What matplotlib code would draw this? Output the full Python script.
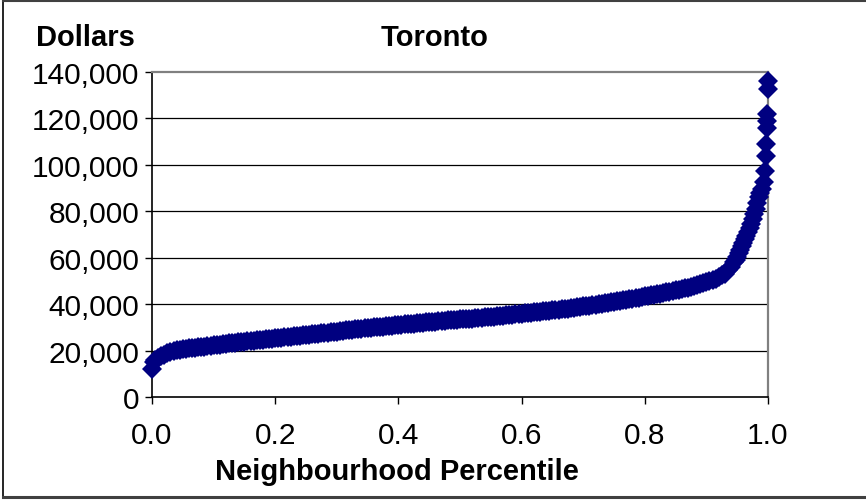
import matplotlib
matplotlib.use("Agg")
import matplotlib.pyplot as plt
from matplotlib.lines import Line2D
from matplotlib.ticker import FuncFormatter

plt.rcParams['font.family'] = ['Liberation Sans', 'DejaVu Sans']

title = "Toronto"
y_label = "Dollars"
x_label = "Neighbourhood Percentile"
x_ticks = [0.0, 0.2, 0.4, 0.6, 0.8, 1.0]
y_ticks = [0, 20000, 40000, 60000, 80000, 100000, 120000, 140000]

percentile = [
    0.000, 0.003,
    0.005, 0.010, 0.015, 0.020, 0.025, 0.030, 0.035, 0.040, 0.045, 0.050,
    0.055, 0.060, 0.065, 0.070, 0.075, 0.080, 0.085, 0.090, 0.095, 0.100,
    0.105, 0.110, 0.115, 0.120, 0.125, 0.130, 0.135, 0.140, 0.145, 0.150,
    0.155, 0.160, 0.165, 0.170, 0.175, 0.180, 0.185, 0.190, 0.195, 0.200,
    0.205, 0.210, 0.215, 0.220, 0.225, 0.230, 0.235, 0.240, 0.245, 0.250,
    0.255, 0.260, 0.265, 0.270, 0.275, 0.280, 0.285, 0.290, 0.295, 0.300,
    0.305, 0.310, 0.315, 0.320, 0.325, 0.330, 0.335, 0.340, 0.345, 0.350,
    0.355, 0.360, 0.365, 0.370, 0.375, 0.380, 0.385, 0.390, 0.395, 0.400,
    0.405, 0.410, 0.415, 0.420, 0.425, 0.430, 0.435, 0.440, 0.445, 0.450,
    0.455, 0.460, 0.465, 0.470, 0.475, 0.480, 0.485, 0.490, 0.495, 0.500,
    0.505, 0.510, 0.515, 0.520, 0.525, 0.530, 0.535, 0.540, 0.545, 0.550,
    0.555, 0.560, 0.565, 0.570, 0.575, 0.580, 0.585, 0.590, 0.595, 0.600,
    0.605, 0.610, 0.615, 0.620, 0.625, 0.630, 0.635, 0.640, 0.645, 0.650,
    0.655, 0.660, 0.665, 0.670, 0.675, 0.680, 0.685, 0.690, 0.695, 0.700,
    0.705, 0.710, 0.715, 0.720, 0.725, 0.730, 0.735, 0.740, 0.745, 0.750,
    0.755, 0.760, 0.765, 0.770, 0.775, 0.780, 0.785, 0.790, 0.795, 0.800,
    0.805, 0.810, 0.815, 0.820, 0.825, 0.830, 0.835, 0.840, 0.845, 0.850,
    0.855, 0.860, 0.865, 0.870, 0.875, 0.880, 0.885, 0.890, 0.895, 0.900,
    0.905, 0.910, 0.915, 0.920, 0.925, 0.930, 0.935, 0.940, 0.945, 0.950,
    0.9475, 0.9525, 0.955, 0.9575, 0.960, 0.9625, 0.965, 0.9675, 0.970, 0.9725,
    0.975, 0.9775, 0.980, 0.9825, 0.985, 0.9875, 0.990, 0.993, 0.995, 0.996,
    0.997, 0.998, 0.998, 0.999, 1.000, 1.000,
]

income = [
    12000, 15000,
    16000, 16800, 17600, 18300, 19000, 19500, 19900, 20200, 20400, 20600,
    20800, 21000, 21150, 21300, 21450, 21600, 21750, 21900, 22100, 22300,
    22450, 22600, 22750, 22900, 23050, 23200, 23350, 23500, 23650, 23800,
    23950, 24100, 24250, 24400, 24550, 24700, 24850, 25000, 25150, 25300,
    25450, 25600, 25750, 25900, 26000, 26100, 26250, 26400, 26550, 26700,
    26850, 27000, 27150, 27300, 27450, 27600, 27750, 27900, 28050, 28200,
    28350, 28500, 28650, 28800, 28950, 29100, 29250, 29400, 29550, 29700,
    29850, 30000, 30100, 30200, 30350, 30500, 30650, 30800, 30900, 31000,
    31150, 31300, 31400, 31500, 31650, 31800, 31900, 32000, 32100, 32200,
    32350, 32500, 32650, 32800, 32900, 33000, 33100, 33200, 33300, 33400,
    33500, 33600, 33700, 33800, 33900, 34000, 34150, 34300, 34400, 34500,
    34650, 34800, 34900, 35000, 35150, 35300, 35450, 35600, 35750, 35900,
    36050, 36200, 36350, 36500, 36600, 36700, 36850, 37000, 37150, 37300,
    37450, 37600, 37750, 37900, 38050, 38200, 38400, 38600, 38800, 39000,
    39200, 39400, 39600, 39800, 40000, 40200, 40400, 40600, 40800, 41000,
    41200, 41400, 41600, 41800, 42050, 42300, 42550, 42800, 43050, 43300,
    43550, 43800, 44050, 44300, 44550, 44800, 45050, 45300, 45600, 45900,
    46200, 46500, 46800, 47100, 47450, 47800, 48200, 48600, 49000, 49400,
    49900, 50400, 51000, 51600, 52400, 53200, 54500, 56000, 58000, 60500,
    59200, 62000, 63500, 65000, 66500, 68000, 69500, 71200, 73000, 74700,
    76500, 78700, 81000, 83500, 86000, 87800, 89500, 92500, 97500, 104000,
    109000, 116000, 119000, 122000, 132700, 136300,
]

W, H = 866, 502
fig = plt.figure(figsize=(W / 100, H / 100), dpi=100)
ax = fig.add_axes([152 / W, 1 - 398 / H, (768 - 152) / W, (398 - 73) / H])

ax.plot(percentile, income, linestyle='none', marker='D', markersize=10.5,
        color='#000080', markeredgewidth=0, clip_on=False, zorder=5)

ax.set_xlim(0, 1)
ax.set_ylim(0, 140000)
ax.set_xticks(x_ticks)
ax.set_yticks(y_ticks)
ax.xaxis.set_major_formatter(FuncFormatter(lambda v, p: f"{v:.1f}"))
ax.yaxis.set_major_formatter(FuncFormatter(lambda v, p: f"{int(v):,}"))
ax.tick_params(axis='both', direction='out', length=5, width=1.0, color='black',
               labelsize=21.5, pad=4)
ax.tick_params(axis='x', pad=12)

for v in y_ticks[1:-1]:
    ax.axhline(v, color='black', linewidth=0.9, zorder=1)

ax.spines['left'].set_color('black')
ax.spines['bottom'].set_color('black')
ax.spines['left'].set_linewidth(1.2)
ax.spines['bottom'].set_linewidth(1.2)
ax.spines['top'].set_color('#808080')
ax.spines['right'].set_color('#808080')
ax.spines['top'].set_linewidth(1.6)
ax.spines['right'].set_linewidth(1.6)

fig.text(85 / W, 1 - 38 / H, y_label, ha='center', va='center', fontsize=21, fontweight='bold')
fig.text(435 / W, 1 - 38 / H, title, ha='center', va='center', fontsize=21, fontweight='bold')
fig.text(397 / W, 1 - 472 / H, x_label, ha='center', va='center', fontsize=21, fontweight='bold')

# outer chart frame
fig.add_artist(Line2D([3 / W, 3 / W], [1 - 2 / H, 1 - 498 / H], transform=fig.transFigure, color='black', lw=1.2))
fig.add_artist(Line2D([3 / W, 1], [1 - 2 / H, 1 - 2 / H], transform=fig.transFigure, color='#404040', lw=1.5))
fig.add_artist(Line2D([3 / W, 1], [1 - 498 / H, 1 - 498 / H], transform=fig.transFigure, color='#404040', lw=2.2))

fig.savefig("out.png", dpi=100)
